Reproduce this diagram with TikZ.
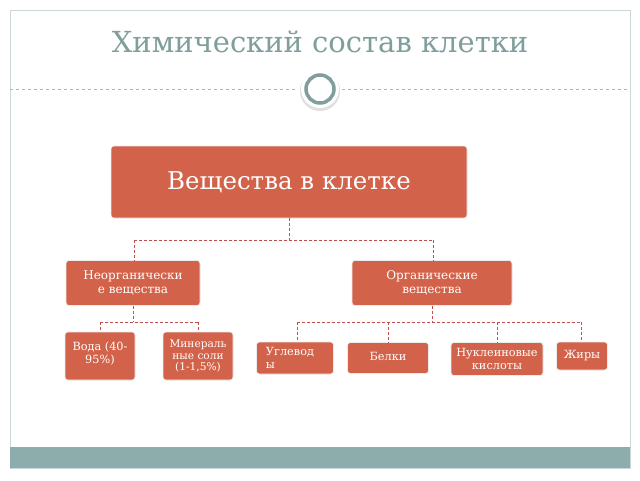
\documentclass[tikz,border=0pt]{standalone}
\usepackage{fontspec}
\setmainfont{DejaVu Serif}
\begin{document}
\definecolor{bx}{HTML}{D2634A}
\definecolor{ln}{HTML}{C0504D}
\definecolor{tl}{HTML}{7F9E9C}
\definecolor{band}{HTML}{8CADAC}
\begin{tikzpicture}[x=1pt,y=-1pt,
 box/.style={draw=white!85!gray,line width=0.6pt,fill=bx,rounded corners=3pt,text=white,align=center,inner sep=1pt},
 con/.style={draw=ln,densely dashed,line width=0.7pt}]
\useasboundingbox (0,0) rectangle (640,480);
\fill[white] (0,0) rectangle (640,480);
\draw[color=tl!40,line width=1pt] (10,10) rectangle (630,468);
\fill[band] (10,447) rectangle (630,468);
\node[text=tl,font=\fontsize{29}{32}\selectfont] (title) at (320,42) {Химический состав клетки};
\draw[tl!70,dashed,line width=0.5pt] (10,89) -- (298,89) (342,89) -- (630,89);
\fill[gray!25] (320,91) circle (20);
\fill[white] (320,89) circle (19);
\draw[tl,line width=3.5pt] (320,89) circle (14);
\node[box,minimum width=356,minimum height=72,font=\fontsize{24.5}{28}\selectfont] (main) at (289,182) {Вещества в клетке};
\node[box,minimum width=134,minimum height=45,font=\fontsize{12}{13.5}\selectfont] (ino) at (133,283) {Неорганически\\е вещества};
\node[box,minimum width=160,minimum height=45,font=\fontsize{12}{13.5}\selectfont] (org) at (432,283) {Органические\\вещества};
\tikzset{sm/.style={box,font=\fontsize{11.3}{12.5}\selectfont}}
\node[sm,minimum width=70,minimum height=48] (w) at (100,356) {\raisebox{6pt}{\shortstack{Вода (40-\\95\%)}}};
\node[sm,minimum width=70,minimum height=48,font=\fontsize{10.6}{11.5}\selectfont] (m) at (198,356) {Минераль\\ные соли\\(1-1,5\%)};
\node[sm,minimum width=77,minimum height=32,align=left] (u) at (295,358) {Углевод\hspace*{10pt}\\ы};
\node[sm,minimum width=81,minimum height=31] (b) at (388,358) {\raisebox{4pt}{Белки}};
\node[sm,minimum width=92,minimum height=33] (n) at (497,359) {Нуклеиновые\\кислоты};
\node[sm,minimum width=51,minimum height=28] (z) at (582,356) {Жиры};
\coordinate (j1) at (289,240);
\draw[con] (main.south) -- (j1) (134,240) -- (433,240) (134,240) -- (ino.north -| 134,0) (433,240) -- (org.north -| 433,0);
\draw[con] (ino.south) -- (133,322) (100,322) -- (198,322) (100,322) -- (w.north -| 100,0) (198,322) -- (m.north);
\draw[con] (org.south) -- (432,322) (297,322) -- (581,322) (297,322) -- (u.north -| 297,0) (388,322) -- (b.north) (497,322) -- (n.north) (581,322) -- (z.north -| 581,0);
\end{tikzpicture}
\end{document}
